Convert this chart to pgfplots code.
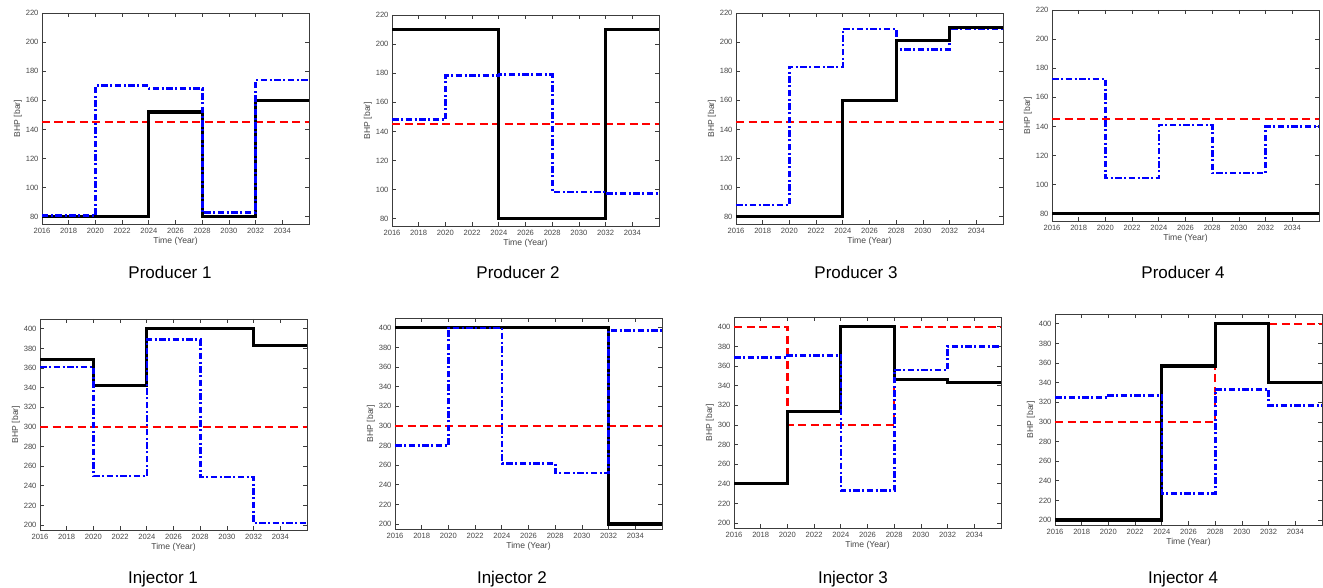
\documentclass[border=0pt]{standalone}
\usepackage{pgfplots}
\pgfplotsset{compat=1.18}
\usepackage{fontspec}
\setmainfont{Liberation Sans}
\definecolor{framegray}{RGB}{60,60,60}
\definecolor{labgray}{RGB}{70,70,70}
\pgfplotsset{
  bhp/.style={
    scale only axis, width=267pt, height=211pt,
    xmin=2016, xmax=2036, xtick={2016,2018,...,2034},
    tick align=inside, major tick length=4pt,
    axis line style={draw=framegray, line width=0.9pt},
    every tick/.style={framegray, line width=0.7pt},
    ticklabel style={font=\fontsize{7.6}{8}\selectfont, text=labgray},
    /pgf/number format/assume math mode=true,
    /pgf/number format/set thousands separator={},
    xlabel={Time (Year)}, ylabel={BHP [bar]},
    label style={font=\fontsize{8.6}{9}\selectfont, text=labgray},
    xlabel style={yshift=4pt},
    ylabel style={yshift=-3pt},
    xticklabel style={yshift=-1pt},
    const plot, no markers, clip=true,
  },
  prod/.style={bhp, ymin=75, ymax=220, ytick={80,100,...,220}},
  inj/.style={bhp, ymin=195, ymax=410, ytick={200,220,...,400}},
  blk/.style={draw=black, line width=3.2pt},
  blu/.style={draw=blue, line width=2.6pt, dash pattern=on 6.5pt off 2.5pt on 2pt off 2.5pt},
  rd/.style={draw=red, line width=2.5pt, dash pattern=on 8pt off 4.5pt},
}
\newcommand{\ttl}[3]{\node[anchor=base, font=\fontsize{17}{18}\selectfont] at (#1pt,-#2pt) {#3};}
\begin{document}
\begin{tikzpicture}
\useasboundingbox (0,0) rectangle (1323pt,-588pt);
% ---------------- Producer 1
\begin{axis}[prod, at={(42pt,-224pt)}, anchor=south west]
\addplot[rd] coordinates {(2016,145) (2036,145)};
\addplot[blk] coordinates {(2016,80) (2020,80) (2024,152) (2028,80) (2032,160) (2036,160)};
\addplot[blu] coordinates {(2016,81) (2020,170) (2024,168) (2028,83) (2032,174) (2036,174)};
\end{axis}
% ---------------- Producer 2
\begin{axis}[prod, at={(392pt,-226pt)}, anchor=south west]
\addplot[rd] coordinates {(2016,145) (2036,145)};
\addplot[blk] coordinates {(2016,210) (2020,210) (2024,80) (2028,80) (2032,210) (2036,210)};
\addplot[blu] coordinates {(2016,148) (2020,178.5) (2024,179) (2028,98.5) (2032,97.5) (2036,97.5)};
\end{axis}
% ---------------- Producer 3
\begin{axis}[prod, at={(736pt,-224pt)}, anchor=south west]
\addplot[rd] coordinates {(2016,145) (2036,145)};
\addplot[blu] coordinates {(2016,88) (2020,183) (2024,209) (2028,195) (2032,209) (2036,209)};
\addplot[blk] coordinates {(2016,80) (2020,80) (2024,160) (2028,201) (2032,210) (2036,210)};
\end{axis}
% ---------------- Producer 4
\begin{axis}[prod, at={(1052pt,-221pt)}, anchor=south west]
\addplot[rd] coordinates {(2016,145) (2036,145)};
\addplot[blk] coordinates {(2016,80) (2036,80)};
\addplot[blu] coordinates {(2016,172.5) (2020,104.5) (2024,141) (2028,108) (2032,140) (2036,140)};
\end{axis}
% ---------------- Injector 1
\begin{axis}[inj, at={(40pt,-530pt)}, anchor=south west]
\addplot[rd] coordinates {(2016,300) (2036,300)};
\addplot[blk] coordinates {(2016,369) (2020,342) (2024,400) (2028,400) (2032,383) (2036,383)};
\addplot[blu] coordinates {(2016,361) (2020,250) (2024,389) (2028,249) (2032,202) (2036,202)};
\end{axis}
% ---------------- Injector 2
\begin{axis}[inj, at={(395pt,-529pt)}, anchor=south west]
\addplot[rd] coordinates {(2016,300) (2036,300)};
\addplot[blk] coordinates {(2016,400) (2020,400) (2024,400) (2028,400) (2032,200) (2036,200)};
\addplot[blu] coordinates {(2016,280) (2020,400) (2024,262) (2028,252) (2032,397) (2036,397)};
\end{axis}
% ---------------- Injector 3
\begin{axis}[inj, at={(734pt,-528pt)}, anchor=south west]
\addplot[rd] coordinates {(2016,400) (2020,300) (2024,300) (2028,400) (2032,400) (2036,400)};
\addplot[blk] coordinates {(2016,240) (2020,314) (2024,400) (2028,346) (2032,343) (2036,343)};
\addplot[blu] coordinates {(2016,369) (2020,371) (2024,233) (2028,356) (2032,380) (2036,380)};
\end{axis}
% ---------------- Injector 4
\begin{axis}[inj, at={(1055pt,-525pt)}, anchor=south west]
\addplot[rd] coordinates {(2016,300) (2020,300) (2024,300) (2028,400) (2032,400) (2036,400)};
\addplot[blk] coordinates {(2016,200) (2020,200) (2024,357) (2028,400) (2032,340) (2036,340)};
\addplot[blu] coordinates {(2016,325) (2020,327) (2024,227) (2028,333) (2032,317) (2036,317)};
\end{axis}
% ---------------- titles
\ttl{170}{279}{Producer 1}
\ttl{518}{279}{Producer 2}
\ttl{856}{279}{Producer 3}
\ttl{1183}{279}{Producer 4}
\ttl{163}{583}{Injector 1}
\ttl{512}{583}{Injector 2}
\ttl{853}{583}{Injector 3}
\ttl{1183}{583}{Injector 4}
\end{tikzpicture}
\end{document}
